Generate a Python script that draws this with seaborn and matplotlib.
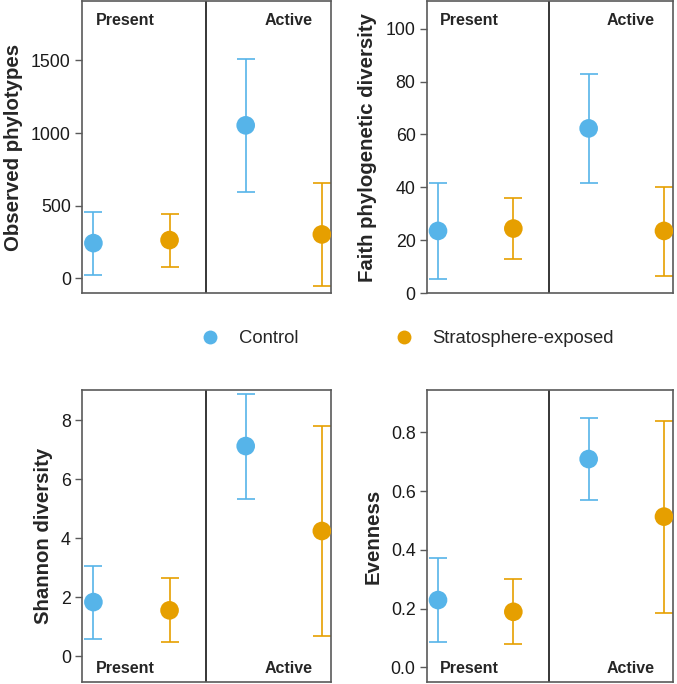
import numpy as np
import pandas as pd
import matplotlib.pyplot as plt
import seaborn as sns
from matplotlib.lines import Line2D
from matplotlib.transforms import blended_transform_factory

# === Data ===
sites = ["Present", "Active"]
treatments = ["Control", "Stratosphere-exposed"]
metrics = ["Observed phylotypes", "Faith phylogenetic diversity",
           "Shannon diversity", "Evenness"]

# order: Present-Control, Present-Exposed, Active-Control, Active-Exposed
observed_mean = [241, 262, 1053, 301]
observed_lo = [21, 78, 594, -53]
observed_hi = [455, 442, 1512, 656]

faith_mean = [23.5, 24.4, 62.3, 23.5]
faith_lo = [5.3, 12.8, 41.5, 6.6]
faith_hi = [41.5, 35.8, 83.0, 40.2]

shannon_mean = [1.83, 1.55, 7.12, 4.24]
shannon_lo = [0.58, 0.47, 5.33, 0.67]
shannon_hi = [3.07, 2.64, 8.87, 7.80]

evenness_mean = [0.229, 0.189, 0.709, 0.513]
evenness_lo = [0.085, 0.079, 0.568, 0.184]
evenness_hi = [0.373, 0.300, 0.850, 0.840]

rows = []
for m, (mean, lo, hi) in zip(metrics, [
        (observed_mean, observed_lo, observed_hi),
        (faith_mean, faith_lo, faith_hi),
        (shannon_mean, shannon_lo, shannon_hi),
        (evenness_mean, evenness_lo, evenness_hi)]):
    i = 0
    for s in sites:
        for t in treatments:
            rows.append({"metric": m, "site": s, "treatment": t, "pos": i + 1,
                         "mean": mean[i], "lo": lo[i], "hi": hi[i]})
            i += 1
df = pd.DataFrame(rows)

# === Style ===
sns.set_style("white")
plt.rcParams["font.family"] = ["Liberation Sans", "DejaVu Sans"]

palette = {"Control": "#56B4E9", "Stratosphere-exposed": "#E69F00"}
frame_col = "#5a5a5a"

ylims = {
    "Observed phylotypes": (-103, 1910),
    "Faith phylogenetic diversity": (0, 110.5),
    "Shannon diversity": (-0.88, 9.02),
    "Evenness": (-0.05, 0.944),
}
yticks = {
    "Observed phylotypes": [0, 500, 1000, 1500],
    "Faith phylogenetic diversity": [0, 20, 40, 60, 80, 100],
    "Shannon diversity": [0, 2, 4, 6, 8],
    "Evenness": [0.0, 0.2, 0.4, 0.6, 0.8],
}
ytick_fmt = {
    "Observed phylotypes": "{:.0f}",
    "Faith phylogenetic diversity": "{:.0f}",
    "Shannon diversity": "{:.0f}",
    "Evenness": "{:.1f}",
}

fig = plt.figure(figsize=(6.77, 6.84), dpi=100)
boxes = [
    [0.1211, 0.5716, 0.3678, 0.4269],
    [0.6303, 0.5716, 0.3638, 0.4269],
    [0.1211, 0.0029, 0.3678, 0.4269],
    [0.6303, 0.0029, 0.3638, 0.4269],
]

for k, (m, box) in enumerate(zip(metrics, boxes)):
    ax = fig.add_axes(box)
    d = df[df["metric"] == m]
    for _, r in d.iterrows():
        ax.errorbar(r["pos"], r["mean"],
                    yerr=[[r["mean"] - r["lo"]], [r["hi"] - r["mean"]]],
                    fmt="none", ecolor=palette[r["treatment"]],
                    elinewidth=1.2, capsize=6.5, capthick=1.2, zorder=2)
    sns.scatterplot(data=d, x="pos", y="mean", hue="treatment",
                    palette=palette, s=180, edgecolor="none",
                    legend=False, ax=ax, zorder=3)
    ax.set_xlim(0.85, 4.12)
    ax.set_ylim(*ylims[m])
    ax.set_xticks([])
    ax.set_yticks(yticks[m])
    ax.set_yticklabels([ytick_fmt[m].format(v) for v in yticks[m]])
    ax.tick_params(axis="y", left=True, length=5, width=1, color=frame_col,
                   labelsize=12.8, pad=3, labelcolor="#1a1a1a")
    ax.set_xlabel("")
    ax.set_ylabel(m, fontsize=14.7, fontweight="bold", labelpad=6)
    for sp in ax.spines.values():
        sp.set_color(frame_col)
        sp.set_linewidth(1.2)
    ax.axvline(2.48, color="black", lw=1.1, zorder=1)

    trans = blended_transform_factory(ax.transData, ax.transAxes)
    ty = 0.932 if k < 2 else 0.048
    ax.text(1.42, ty, "Present", transform=trans, ha="center", va="center",
            fontsize=11.5, fontweight="bold")
    ax.text(3.56, ty, "Active", transform=trans, ha="center", va="center",
            fontsize=11.5, fontweight="bold")

handles = [Line2D([0], [0], marker="o", linestyle="none", markersize=10,
                  markerfacecolor=palette[t], markeredgecolor="none", label=t)
           for t in treatments]
fig.legend(handles=handles, loc="center", bbox_to_anchor=(0.602, 0.505),
           ncol=2, frameon=False, fontsize=13.3, handlelength=1.0,
           handletextpad=1.05, columnspacing=5.2)

fig.savefig("out.png", dpi=100)
